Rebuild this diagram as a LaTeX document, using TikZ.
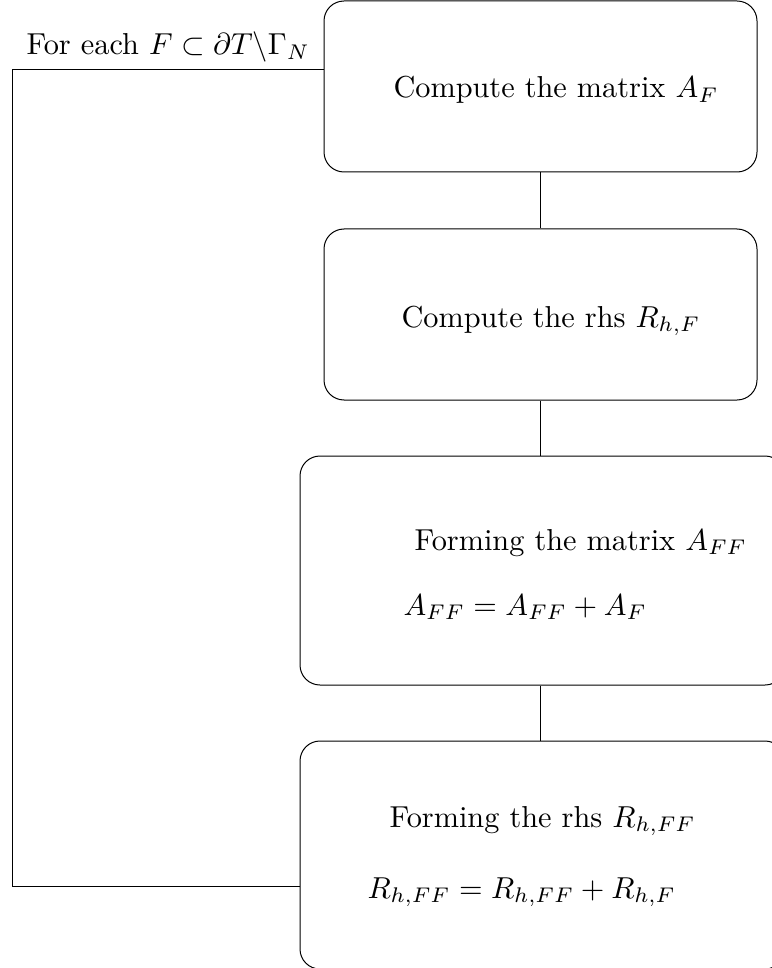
\documentclass[tikz,border=0pt]{standalone}
\usepackage{amsmath}
\begin{document}
\begin{tikzpicture}[x=1pt,y=-1pt,line width=1pt,
  stepbox/.style={draw,rounded corners=20pt,inner sep=0pt},
  txt/.style={anchor=base west,inner sep=0pt,scale=3.03}]
\useasboundingbox (0,0) rectangle (771,968);
\node[stepbox,minimum width=433pt,minimum height=171pt] (b1) at (540.5,86.5) {};
\node[stepbox,minimum width=433pt,minimum height=171pt] (b2) at (540.5,314.5) {};
\node[stepbox,minimum width=485pt,minimum height=229pt] (b3) at (542.5,570.5) {};
\node[stepbox,minimum width=485pt,minimum height=228pt] (b4) at (542.5,855) {};
\node[txt] (lab) at (25,55) {For each $F\subset\partial T\backslash\Gamma_N$};
\node[txt] (t1) at (392,98) {Compute the matrix $A_F$};
\node[txt] (t2) at (400,327) {Compute the rhs $R_{h,F}$};
\node[txt] (t3) at (413,550) {Forming the matrix $A_{FF}$};
\node[txt] (t3b) at (402,615) {$A_{FF}=A_{FF}+A_F$};
\node[txt] (t4) at (388,827) {Forming the rhs $R_{h,FF}$};
\node[txt] (t4b) at (366,898) {$R_{h,FF}=R_{h,FF}+R_{h,F}$};
\draw (b1.south) -- (b2.north);
\draw (b2.south) -- (b2.south |- b3.north);
\draw (b3.south -| b2.south) -- (b2.south |- b4.north);
\coordinate (lt) at (12,70);
\coordinate (lb) at (12,886);
\draw (lt -| b1.west) -- (lt) -- (lb) -- (lb -| b4.west);
\end{tikzpicture}
\end{document}
